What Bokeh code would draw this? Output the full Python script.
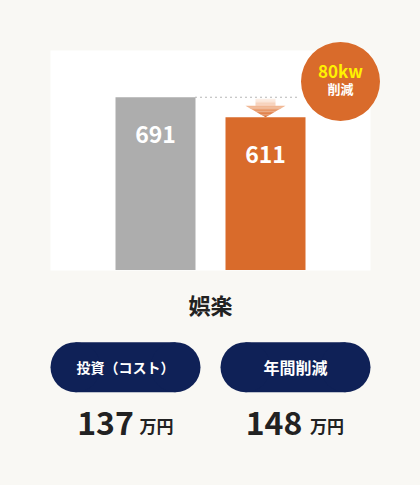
from bokeh.plotting import figure
from bokeh.models import Range1d
from bokeh.core.properties import value
from bokeh.embed import file_html
from bokeh.resources import INLINE

# ---------------- data ----------------
bar_names = ["導入前", "導入後"]
bar_values = [691, 611]
bar_colors = ["#adadad", "#d96b2b"]
reduction_value = "80kw"
reduction_word = "削減"
category_label = "娯楽"
pill_labels = ["投資（コスト）", "年間削減"]
amounts = ["137", "148"]
amount_unit = "万円"

# ---------------- style / layout ----------------
BG = "#f9f8f4"
NAVY = "#0f2157"
ORANGE = "#d96b2b"
DARK = "#222222"
FONT = value("Noto Sans CJK JP")

W, H = 420, 485      # figure size
M = 0
X0 = 155.0           # image px of first bar centre
XS = 110.0           # px per bar step
Y0 = 269.5           # image px of value 0
YS = 0.25            # px per value unit


def dx(X):
    return (X - X0) / XS


def dy(Y):
    return (Y0 - Y) / YS


p = figure(width=W, height=H, x_range=Range1d(dx(M), dx(M + W)),
           y_range=Range1d(dy(M + H), dy(M)), output_backend="svg",
           toolbar_location=None, title=None, x_axis_location=None,
           y_axis_location=None, min_border=0, background_fill_color=BG,
           border_fill_color=BG, outline_line_color=None)
p.grid.grid_line_color = None

# white panel
p.quad(left=[dx(50)], right=[dx(370)], bottom=[dy(270)], top=[dy(50)],
       fill_color="white", line_color=None)

xs = list(range(len(bar_values)))
bw = 80 / XS

# dotted guide at first bar's height
p.line(x=[xs[0] + bw / 2, dx(300)], y=[bar_values[0], bar_values[0]],
       line_color="#6e6e6e", line_dash="1 4", line_width=1)

# bars
p.vbar(x=xs, top=bar_values, bottom=0, width=bw, fill_color=bar_colors,
       line_color=None)


# gradient arrow from first level down to second bar
def hexrgb(h):
    h = h.lstrip("#")
    return [int(h[i:i + 2], 16) for i in (0, 2, 4)]


def mix(a, b, t):
    ca, cb = hexrgb(a), hexrgb(b)
    return "#%02x%02x%02x" % tuple(int(round(ca[i] + (cb[i] - ca[i]) * t)) for i in range(3))


ax = xs[1]
top_y = bar_values[0] - 1.6 / YS
tip_y = bar_values[1]
neck_y = tip_y + 11.5 / YS
shaft_hw = 10 / XS
head_hw = 20 / XS
pxs, pys, pcs = [], [], []
n = 5
for i in range(n):
    y1 = top_y + (neck_y - top_y) * i / n
    y2 = top_y + (neck_y - top_y) * (i + 1) / n
    pxs.append([ax - shaft_hw, ax + shaft_hw, ax + shaft_hw, ax - shaft_hw])
    pys.append([y1, y1, y2, y2])
    pcs.append(mix("#fdf1ea", "#f5c6a9", (i + 0.5) / n))
n = 8
for i in range(n):
    t1, t2 = i / n, (i + 1) / n
    y1 = neck_y + (tip_y - neck_y) * t1
    y2 = neck_y + (tip_y - neck_y) * t2
    w1, w2 = head_hw * (1 - t1), head_hw * (1 - t2)
    pxs.append([ax - w1, ax + w1, ax + w2, ax - w2])
    pys.append([y1, y1, y2, y2])
    pcs.append(mix("#f3bc9a", ORANGE, (i + 0.5) / n))
p.patches(xs=pxs, ys=pys, fill_color=pcs, line_color=None)

# badge
p.scatter(x=[dx(340)], y=[dy(81)], size=79, marker="circle",
          fill_color=ORANGE, line_color=None)

common = dict(text_font=FONT, text_font_style="bold", text_align="center",
              text_baseline="middle")

# value labels inside bars
p.text(x=xs, y=bar_values, text=[str(v) for v in bar_values], y_offset=37,
       text_font_size="23px", text_color="white", **common)

p.text(x=[dx(340)], y=[dy(70)], text=[reduction_value],
       text_font_size="17px", text_color="#fff200", **common)
p.text(x=[dx(340)], y=[dy(88)], text=[reduction_word],
       text_font_size="13px", text_color="white", **common)

# category label
p.text(x=[dx(210)], y=[dy(303.5)], text=[category_label],
       text_font_size="22px", text_color=DARK, **common)

# pills
pill_cx = [125, 295]
pill_y = dy(366.7)
p.rect(x=[dx(c) for c in pill_cx], y=[pill_y] * 2, width=100, height=50,
       width_units="screen", height_units="screen", fill_color=NAVY,
       line_color=None)
p.scatter(x=[dx(c + s) for c in pill_cx for s in (-50, 50)], y=[pill_y] * 4,
          size=50, marker="circle", fill_color=NAVY, line_color=None)
p.text(x=[dx(pill_cx[0])], y=[dy(366.5)], text=[pill_labels[0]],
       text_font_size="14px", text_color="white", **common)
p.text(x=[dx(pill_cx[1])], y=[dy(366.5)], text=[pill_labels[1]],
       text_font_size="16px", text_color="white", **common)

# amounts
p.text(x=[dx(105), dx(273.5)], y=[dy(422)] * 2, text=amounts,
       text_font_size="32px", text_color=DARK, **common)
p.text(x=[dx(156), dx(326.5)], y=[dy(425)] * 2, text=[amount_unit] * 2,
       text_font_size="17px", text_color=DARK, **common)

html = file_html(p, INLINE, title="chart")
html = html.replace("</head>", "<style>html,body{background:%s;margin:0;}</style></head>" % BG, 1)
open("out.html", "w").write(html)
